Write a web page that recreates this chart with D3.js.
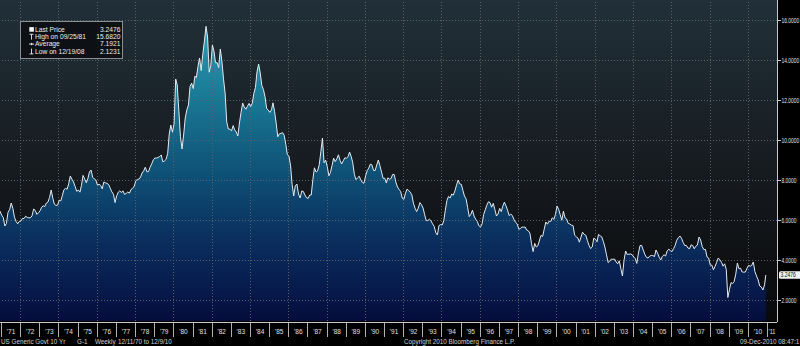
<!DOCTYPE html>
<html>
<head>
<meta charset="utf-8">
<script src="https://cdn.jsdelivr.net/npm/d3@7"></script>
<style>
  html, body { margin: 0; padding: 0; background: #000; }
  svg { display: block; }
  text { font-family: "Liberation Sans", "DejaVu Sans", sans-serif; }
</style>
</head>
<body>
<svg id="chart" width="800" height="346"></svg>
<script>
// US Generic Govt 10 Yr yield (%), monthly readings from Dec 1970 onward
const yields1970s = [
  6.45,
  6.24, 6.11, 5.70, 5.83, 6.39, 6.52, 6.85, 6.58, 6.14, 5.93, 5.81, 5.93,
  5.95, 6.08, 6.07, 6.19, 6.13, 6.11, 6.11, 6.21, 6.55, 6.48, 6.28, 6.36,
  6.46, 6.64, 6.71, 6.67, 6.85, 6.90, 7.13, 7.50, 7.09, 6.79, 6.73, 6.74,
  6.99, 6.96, 7.21, 7.51, 7.58, 7.54, 7.81, 8.20, 8.04, 7.90, 7.68, 7.43,
  7.50, 7.39, 7.73, 8.23, 8.06, 7.86, 8.06, 8.40, 8.50, 8.14, 8.05, 8.00,
  7.74, 7.79, 7.73, 7.56, 7.90, 7.86, 7.83, 7.77, 7.59, 7.41, 7.29, 6.87,
  7.21, 7.39, 7.46, 7.37, 7.46, 7.28, 7.33, 7.40, 7.34, 7.52, 7.58, 7.69,
  7.96, 8.03, 8.04, 8.15, 8.35, 8.46, 8.64, 8.41, 8.42, 8.64, 8.81, 9.01,
  9.10, 9.10, 9.12, 9.18, 9.25, 8.91, 8.95, 9.03, 9.33, 10.30, 10.75, 10.39
];
const yields1980s = [
  10.80, 13.05, 12.75, 11.47, 10.18, 9.55, 10.25, 11.10, 11.51, 11.75, 12.68, 12.84,
  12.57, 13.19, 13.12, 13.68, 14.10, 13.47, 14.28, 14.94, 15.682, 15.15, 13.39, 13.72,
  14.75, 14.43, 13.86, 13.87, 13.62, 14.55, 13.95, 13.06, 12.34, 10.91, 10.55, 10.54,
  10.46, 10.72, 10.51, 10.40, 10.20, 10.85, 11.38, 11.85, 11.65, 11.54, 11.69, 11.83,
  11.67, 11.84, 12.32, 12.63, 13.41, 13.80, 13.36, 12.72, 12.52, 12.16, 11.57, 11.50,
  11.38, 11.51, 11.86, 11.43, 10.85, 10.16, 10.31, 10.33, 10.37, 10.24, 9.78, 9.26,
  9.19, 8.70, 7.78, 7.20, 7.71, 7.80, 7.30, 7.10, 7.45, 7.43, 7.25, 7.11,
  7.08, 7.25, 7.25, 8.02, 8.61, 8.40, 8.45, 8.76, 9.42, 10.10, 8.86, 8.99,
  8.67, 8.21, 8.37, 8.72, 9.09, 8.92, 9.06, 9.26, 8.98, 8.80, 8.96, 9.11,
  9.09, 9.17, 9.40, 9.18, 8.86, 8.28, 8.02, 8.11, 8.19, 8.01, 7.87, 7.84
];
const yields1990s = [
  8.21, 8.47, 8.59, 8.79, 8.76, 8.48, 8.47, 8.75, 9.00, 8.72, 8.39, 8.08,
  8.09, 7.85, 8.11, 8.04, 8.07, 8.28, 8.27, 7.90, 7.65, 7.53, 7.42, 7.09,
  7.03, 7.34, 7.54, 7.48, 7.39, 7.26, 6.84, 6.59, 6.42, 6.59, 6.87, 6.77,
  6.60, 6.26, 5.98, 5.97, 6.04, 5.96, 5.81, 5.68, 5.36, 5.25, 5.72, 5.77,
  5.75, 5.97, 6.48, 6.97, 7.18, 7.10, 7.30, 7.24, 7.46, 7.74, 8.00, 7.81,
  7.78, 7.47, 7.20, 7.06, 6.63, 6.17, 6.28, 6.49, 6.20, 6.04, 5.93, 5.71,
  5.65, 5.81, 6.27, 6.51, 6.74, 6.91, 6.87, 6.64, 6.83, 6.53, 6.20, 6.30,
  6.58, 6.42, 6.69, 6.89, 6.71, 6.49, 6.22, 6.30, 6.21, 6.03, 5.88, 5.81,
  5.54, 5.57, 5.65, 5.64, 5.65, 5.50, 5.46, 5.34, 4.81, 4.42, 4.83, 4.65,
  4.72, 5.00, 5.23, 5.18, 5.54, 5.90, 5.79, 5.94, 5.92, 6.11, 6.03, 6.28
];
const yields2000s = [
  6.70, 6.52, 6.26, 5.99, 6.44, 6.10, 6.05, 5.83, 5.80, 5.74, 5.72, 5.24,
  5.16, 5.10, 4.89, 5.14, 5.39, 5.28, 5.24, 4.97, 4.73, 4.57, 4.65, 5.09,
  5.04, 4.91, 5.28, 5.21, 5.16, 4.93, 4.65, 4.26, 3.87, 3.94, 4.05, 4.03,
  4.05, 3.90, 3.81, 3.96, 3.57, 3.20, 3.98, 4.45, 4.27, 4.29, 4.30, 4.27,
  4.15, 4.08, 3.83, 4.35, 4.72, 4.73, 4.50, 4.28, 4.13, 4.10, 4.19, 4.23,
  4.22, 4.17, 4.50, 4.34, 4.14, 4.00, 4.18, 4.26, 4.20, 4.46, 4.54, 4.47,
  4.42, 4.57, 4.72, 4.99, 5.11, 5.20, 5.09, 4.88, 4.72, 4.73, 4.60, 4.56,
  4.76, 4.72, 4.56, 4.69, 4.75, 5.15, 5.00, 4.67, 4.52, 4.53, 4.15, 4.10,
  3.74, 3.74, 3.51, 3.68, 3.88, 4.10, 4.01, 3.89, 3.69, 3.81, 3.53, 2.1231,
  2.52, 2.87, 2.82, 2.93, 3.29, 3.85, 3.56, 3.59, 3.40, 3.39, 3.40, 3.59,
  3.73, 3.69, 3.73, 3.90, 3.42, 3.20, 3.01, 2.70, 2.65, 2.50, 2.76
];
const lastPrice = 3.2476;
const lastDate = new Date(2010, 11, 9);

// legend rows
const legendLabels = ["Last Price", "High on 09/25/81", "Average", "Low on 12/19/08"];
const legendValues = [3.2476, 15.6820, 7.1921, 2.1231];
const legendIcons = ["last", "high", "avg", "low"];

// axis ticks
const yTicks = [2, 4, 6, 8, 10, 12, 14, 16];
const yearLabels = d3.range(1971, 2012);
const footerLeft = ["US Generic Govt 10 Yr", "G-1", "Weekly", "12/11/70 to 12/9/10"];
const footerCenter = "Copyright 2010 Bloomberg Finance L.P.";
const footerRight = "09-Dec-2010 08:47:1";

// assemble the series
const monthly = [].concat(yields1970s, yields1980s, yields1990s, yields2000s);
const series = monthly.map((v, i) => ({
  date: i === 0 ? new Date(1970, 11, 11) : new Date(1970, 11 + i, 15),
  value: v
}));
series.push({ date: lastDate, value: lastPrice });

const W = 800, H = 346;
const plotRight = 777, plotBottom = 321;
const fmt4 = d3.format(".4f");

const x = d3.scaleTime()
  .domain([new Date(1971, 0, 1), new Date(2011, 0, 1)])
  .range([1, 767]);
const y = d3.scaleLinear()
  .domain([0.95, 17])
  .range([plotBottom, 0]);

const svg = d3.select("#chart");
const defs = svg.append("defs");

const bg = defs.append("linearGradient").attr("id", "bgGrad")
  .attr("gradientUnits", "userSpaceOnUse")
  .attr("x1", 0).attr("y1", 0).attr("x2", 0).attr("y2", plotBottom);
bg.append("stop").attr("offset", 0).attr("stop-color", "#213039");
bg.append("stop").attr("offset", 0.5).attr("stop-color", "#171c21");
bg.append("stop").attr("offset", 1).attr("stop-color", "#09090a");

const fill = defs.append("linearGradient").attr("id", "areaGrad")
  .attr("gradientUnits", "userSpaceOnUse")
  .attr("x1", 0).attr("y1", 0).attr("x2", 0).attr("y2", plotBottom);
[[0, "#3ab2c4"], [0.15, "#2592aa"], [0.35, "#17718f"], [0.55, "#0e4f75"],
 [0.75, "#0a2e5e"], [0.9, "#071b4c"], [1, "#050c3c"]].forEach(([o, c]) =>
  fill.append("stop").attr("offset", o).attr("stop-color", c));

defs.append("clipPath").attr("id", "plotClip")
  .append("rect").attr("x", 0).attr("y", 0).attr("width", plotRight).attr("height", plotBottom);
defs.append("clipPath").attr("id", "axisClip")
  .append("rect").attr("x", 0).attr("y", plotBottom).attr("width", plotRight).attr("height", 20);

// backgrounds
svg.append("rect").attr("width", W).attr("height", H).attr("fill", "#000");
svg.append("rect").attr("x", 0).attr("y", 0).attr("width", plotRight).attr("height", plotBottom)
  .attr("fill", "url(#bgGrad)");

const plot = svg.append("g").attr("clip-path", "url(#plotClip)");

// area under the yield line
const area = d3.area().x(d => x(d.date)).y0(plotBottom).y1(d => y(d.value));
const line = d3.line().x(d => x(d.date)).y(d => y(d.value));
plot.append("path").datum(series).attr("d", area).attr("fill", "url(#areaGrad)");

// dotted gridlines
const gridColor = "#5a6066";
const hGrid = plot.append("g").attr("transform", `translate(${plotRight},0)`)
  .call(d3.axisLeft(y).tickValues(yTicks).tickSize(plotRight).tickFormat(""));
hGrid.select(".domain").remove();
hGrid.selectAll("line").attr("stroke", gridColor).attr("stroke-width", 1)
  .attr("stroke-dasharray", "1,2").attr("shape-rendering", "crispEdges");

const evenYears = d3.range(1972, 2011, 2).map(yr => new Date(yr, 0, 1));
const vGrid = plot.append("g").attr("transform", `translate(0,${plotBottom})`)
  .call(d3.axisTop(x).tickValues(evenYears).tickSize(plotBottom).tickFormat(""));
vGrid.select(".domain").remove();
vGrid.selectAll("line").attr("stroke", gridColor).attr("stroke-width", 1)
  .attr("stroke-dasharray", "1,2").attr("shape-rendering", "crispEdges");

plot.append("path").datum(series).attr("d", line)
  .attr("fill", "none").attr("stroke", "#e4eaee").attr("stroke-width", 1)
  .attr("stroke-linejoin", "round");

// right value axis; labels are condensed horizontally to fit the narrow margin
const yAxis = svg.append("g").attr("transform", `translate(${plotRight},0)`)
  .call(d3.axisRight(y).tickValues(yTicks).tickSize(4).tickFormat(fmt4));
yAxis.select(".domain").attr("stroke", "#c8c8c8").attr("d", `M0.5,0V${plotBottom + 1}`);
yAxis.selectAll("line").attr("stroke", "#c8c8c8");
yAxis.selectAll("text").attr("fill", "#e0e0e0").attr("font-size", 6.3)
  .attr("x", 0).attr("transform", "translate(4.5,0) scale(0.78,1)");

// last price tag
const tagY = y(lastPrice);
svg.append("rect").attr("x", 779).attr("y", tagY - 3.8).attr("width", 24).attr("height", 7.6)
  .attr("rx", 1.5).attr("fill", "#f2f2f2");
svg.append("text").attr("transform", `translate(780.5,${tagY}) scale(0.8,1)`)
  .attr("dy", "0.35em").attr("font-size", 6.3).attr("fill", "#111")
  .text(fmt4(lastPrice));

// bottom year axis: cell separators and labels
const bottom = svg.append("g").attr("clip-path", "url(#axisClip)");
svg.append("line").attr("x1", 0).attr("x2", plotRight).attr("y1", plotBottom + 1.5).attr("y2", plotBottom + 1.5)
  .attr("stroke", "#c8c8c8").attr("stroke-width", 1);
const sep = bottom.append("g").attr("transform", `translate(0,${plotBottom + 1})`)
  .call(d3.axisBottom(x).tickValues(d3.range(1971, 2012).map(yr => new Date(yr, 0, 1)))
    .tickSize(15).tickFormat(""));
sep.select(".domain").remove();
sep.selectAll("line").attr("stroke", "#b0b0b0").attr("shape-rendering", "crispEdges");

const lab = svg.append("g").attr("transform", `translate(0,${plotBottom + 1})`)
  .call(d3.axisBottom(x).tickValues(yearLabels.map(yr => new Date(yr, 6, 2)))
    .tickSize(0).tickPadding(7)
    .tickFormat(d => "'" + d3.timeFormat("%y")(d)));
lab.select(".domain").remove();
lab.selectAll("text").attr("fill", "#e0e0e0").attr("font-size", 6.5);
// the 2011 cell is cut short by the value axis, so its label sits inside it
lab.selectAll(".tick").filter(d => d.getFullYear() === 2011)
  .attr("transform", `translate(${(x(new Date(2011, 0, 1)) + plotRight) / 2},0)`)
  .select("text").attr("transform", "scale(0.85,1)");

// footer
const footY = 343.5;
const footX = [1, 77, 95, 118];
footerLeft.forEach((t, i) => svg.append("text").attr("x", footX[i]).attr("y", footY)
  .attr("font-size", 6.3).attr("fill", "#cfcfcf").text(t));
svg.append("text").attr("x", 404).attr("y", footY).attr("font-size", 6.3)
  .attr("fill", "#cfcfcf").text(footerCenter);
svg.append("text").attr("x", 740).attr("y", footY).attr("font-size", 6.3)
  .attr("fill", "#cfcfcf").text(footerRight);

// legend box
const lg = svg.append("g");
lg.append("rect").attr("x", 20.5).attr("y", 21.5).attr("width", 102).attr("height", 37)
  .attr("fill", "#0b0d10").attr("fill-opacity", 0.85).attr("stroke", "#8a8f94").attr("stroke-width", 1);
const rowY = [29.5, 36.8, 44.1, 51.4];
const ic = "#ececec";
legendLabels.forEach((t, i) => {
  const cy = rowY[i];
  const g = lg.append("g");
  if (legendIcons[i] === "last") {
    g.append("rect").attr("x", 29.3).attr("y", cy - 2.4).attr("width", 4.6).attr("height", 4.6).attr("fill", "#f6f6f6");
  } else if (legendIcons[i] === "high") {
    g.append("path").attr("d", `M29.5,${cy - 2.5}H33.5M31.5,${cy - 2.5}V${cy + 2.8}`)
      .attr("stroke", ic).attr("stroke-width", 0.9).attr("fill", "none");
  } else if (legendIcons[i] === "avg") {
    g.append("path").attr("d", `M29,${cy}H34`).attr("stroke", ic).attr("stroke-width", 0.9);
    g.append("path").attr("d", `M31,${cy - 1.5}L32.8,${cy}L31,${cy + 1.5}Z`).attr("fill", ic);
  } else {
    g.append("path").attr("d", `M31.5,${cy - 2.8}V${cy + 2.5}M29.5,${cy + 2.5}H33.5`)
      .attr("stroke", ic).attr("stroke-width", 0.9).attr("fill", "none");
  }
  lg.append("text").attr("x", 35).attr("y", cy).attr("dy", "0.35em")
    .attr("font-size", 6.7).attr("fill", "#ececec").text(t);
  lg.append("text").attr("x", 120.5).attr("y", cy).attr("dy", "0.35em")
    .attr("text-anchor", "end").attr("font-size", 6.7).attr("fill", "#ececec")
    .text(fmt4(legendValues[i]));
});
</script>
</body>
</html>
